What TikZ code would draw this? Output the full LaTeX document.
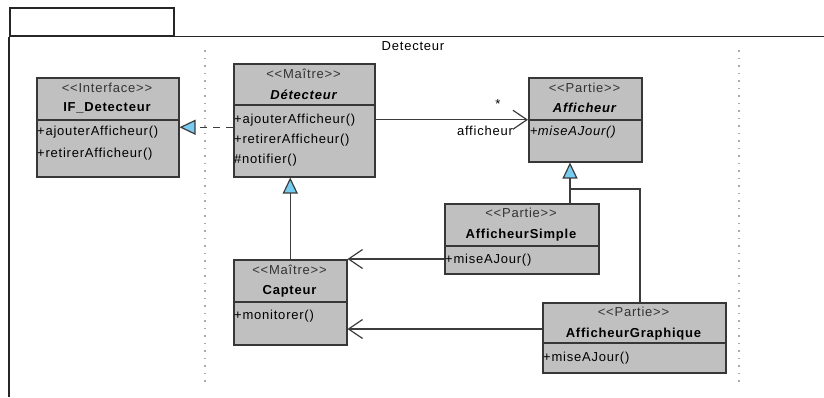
\documentclass[tikz,border=0pt]{standalone}
\usepackage{fontspec}
\setmainfont{Liberation Sans}[LetterSpace=6]
\usetikzlibrary{arrows.meta}
\definecolor{boxfill}{RGB}{192,192,192}
\definecolor{boxline}{RGB}{55,55,55}
\definecolor{conn}{RGB}{60,60,60}
\definecolor{trifill}{RGB}{120,204,242}
\definecolor{dotcol}{RGB}{170,170,170}
\tikzset{
  cls/.style={draw=boxline, fill=boxfill, line width=1.5pt, anchor=north west, inner sep=0pt},
  divline/.style={draw=boxline, line width=1.5pt},
  txt/.style={inner sep=0pt, font=\fontsize{13}{15}\selectfont},
  stereo/.style={txt, text=black!80},
  cname/.style={txt, font=\fontsize{13}{15}\selectfont\bfseries},
  iname/.style={txt, font=\fontsize{13}{15}\selectfont\bfseries\itshape},
  meth/.style={txt, anchor=west},
  conline/.style={draw=conn, line width=1.2pt},
  gen/.style={conline, -{Triangle[length=16pt,width=15pt,fill=trifill]}},
  nav/.style={conline, -{Straight Barb[length=14pt,width=19pt,line width=1.2pt]}},
  frameline/.style={draw=black!85, line width=1.5pt},
  dotline/.style={draw=dotcol, line width=1.2pt, dash pattern=on 1.5pt off 6pt}
}
\begin{document}
\begin{tikzpicture}[x=1pt,y=-1pt]
\useasboundingbox (0,0) rectangle (824,397);
% frame
\node[draw=black!85, line width=1.5pt, minimum width=164pt, minimum height=28pt, anchor=north west, inner sep=0pt] (tab) at (9,7) {};
\coordinate (fr) at (824,35);
\coordinate (fb) at (9,397);
\draw[frameline] (tab.south west) -- (tab.south west -| fr);
\draw[frameline] (tab.south west) -- (fb);
\node[txt] (ftitle) at (413,46) {Detecteur};
% dotted separators
\coordinate (d1a) at (205,50); \coordinate (d1b) at (205,385);
\coordinate (d2a) at (739,50); \coordinate (d2b) at (739,385);
\draw[dotline] (d1a) -- (d1b);
\draw[dotline] (d2a) -- (d2b);

% IF_Detecteur
\node[cls, minimum width=142pt, minimum height=99pt] (ifd) at (36,77) {};
\draw[divline] (36,120) -- (178,120);
\node[stereo] (ifds) at (107,88) {<{}<Interface>{}>};
\node[cname] (ifdn) at (107,108) {IF\_Detecteur};
\node[meth] (ifdm1) at (37,132) {+ajouterAfficheur()};
\node[meth] (ifdm2) at (37,154) {+retirerAfficheur()};

% Detecteur
\node[cls, minimum width=141pt, minimum height=113pt] (det) at (233,63) {};
\draw[divline] (233,105) -- (374,105);
\node[stereo] (dets) at (303.5,74) {<{}<Maître>{}>};
\node[iname] (detn) at (303.5,95) {Détecteur};
\node[meth] (detm1) at (234,120) {+ajouterAfficheur()};
\node[meth] (detm2) at (234,140) {+retirerAfficheur()};
\node[meth] (detm3) at (234,160) {\#notifier()};

% Afficheur
\node[cls, minimum width=113pt, minimum height=84pt] (aff) at (528,77) {};
\draw[divline] (528,120) -- (641,120);
\node[stereo] (affs) at (584.5,88) {<{}<Partie>{}>};
\node[iname] (affn) at (584.5,108) {Afficheur};
\node[meth] (affm1) at (530,132) {+\textit{miseAJour()}};

% AfficheurSimple
\node[cls, minimum width=154pt, minimum height=70pt] (afs) at (444,203) {};
\draw[divline] (444,246) -- (598,246);
\node[stereo] (afss) at (521,213) {<{}<Partie>{}>};
\node[cname] (afsn) at (521,235) {AfficheurSimple};
\node[meth] (afsm1) at (445,260) {+miseAJour()};

% Capteur
\node[cls, minimum width=113pt, minimum height=85pt] (cap) at (233,259) {};
\draw[divline] (233,302) -- (346,302);
\node[stereo] (caps) at (289.5,270) {<{}<Maître>{}>};
\node[cname] (capn) at (289.5,291) {Capteur};
\node[meth] (capm1) at (234,316) {+monitorer()};

% AfficheurGraphique
\node[cls, minimum width=183pt, minimum height=70pt] (afg) at (542,302) {};
\draw[divline] (542,343) -- (725,343);
\node[stereo] (afgs) at (633.5,312) {<{}<Partie>{}>};
\node[cname] (afgn) at (633.5,334) {AfficheurGraphique};
\node[meth] (afgm1) at (543,358) {+miseAJour()};

% connectors
\draw[gen, dashed, dash pattern=on 7pt off 6pt] (det.west |- ifd.east) -- (ifd.east);
\draw[nav] (det.east |- aff.west) -- (aff.west);
\node[txt] (mult) at (498,104) {*};
\node[txt] (role) at (485,131) {afficheur};
\draw[gen] (cap.north) -- (cap.north |- det.south);
\coordinate (j1) at (570,189);
\coordinate (j2) at (640,189);
\coordinate (j3) at (0,329);
\draw[gen] (afs.north -| j1) -- (aff.south -| j1);
\draw[conline] (afg.north -| j2) |- (j1);
\draw[nav] (afs.west |- cap.north) -- (cap.north east);
\draw[nav] (afg.west |- j3) -- (cap.east |- j3);
\end{tikzpicture}
\end{document}
